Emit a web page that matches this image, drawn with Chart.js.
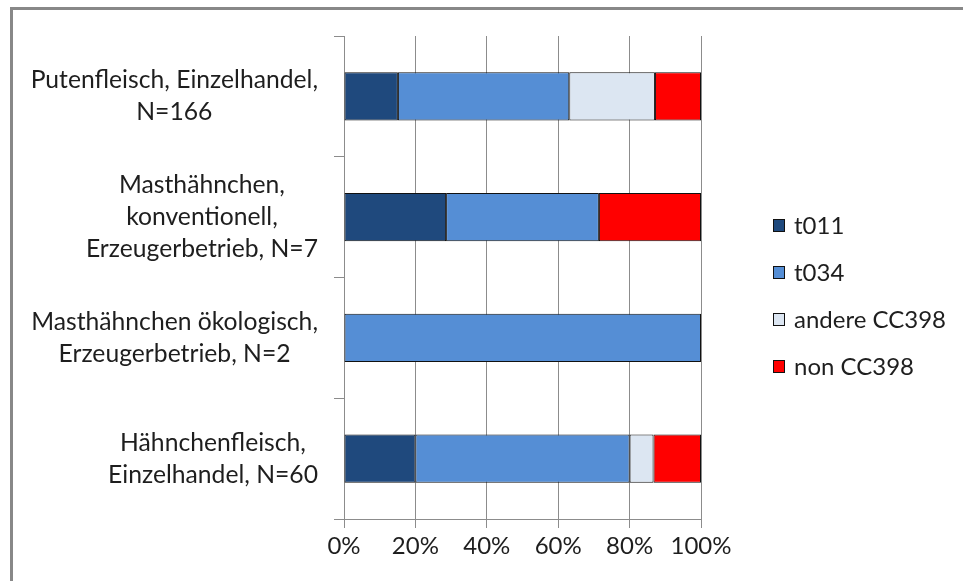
<!DOCTYPE html>
<html>
<head>
<meta charset="utf-8">
<script src="https://cdn.jsdelivr.net/npm/chart.js@4"></script>
<style>
  body { margin: 0; background: #fff; }
  #frame {
    position: absolute; left: 10px; top: 7px; width: 1000px; height: 700px;
    border-left: 3px solid #888; border-top: 3px solid #888;
  }
  #wrap { position: absolute; left: 0; top: 0; width: 963px; height: 581px; }
</style>
</head>
<body>
<div id="frame"></div>
<div id="wrap"><canvas id="myChart" width="963" height="581"></canvas></div>
<script>
// categories, one array entry per text line
var categories = [
  ['Putenfleisch, Einzelhandel,', 'N=166'],
  ['Masthähnchen,', 'konventionell,', 'Erzeugerbetrieb, N=7'],
  ['Masthähnchen ökologisch,', 'Erzeugerbetrieb, N=2'],
  ['Hähnchenfleisch,', 'Einzelhandel, N=60']
];
var seriesNames = ['t011', 't034', 'andere CC398', 'non CC398'];
var seriesColors = ['#1f497d', '#558ed5', '#dce6f2', '#ff0000'];

// shares in percent
var t011 = [15.1, 28.6, 0, 20.0];
var t034 = [48.0, 42.8, 100, 60.0];
var andereCC398 = [24.0, 0, 0, 6.7];
var nonCC398 = [12.9, 28.6, 0, 13.3];

var xTicks = [0, 20, 40, 60, 80, 100];

var FONT = 'Lato, "Open Sans", sans-serif';
var textColor = '#1e1e1e';
var gridColor = '#8c8c8c';

var values = [t011, t034, andereCC398, nonCC398];
var datasets = seriesNames.map(function(name, i) {
  return {
    label: name,
    data: values[i],
    backgroundColor: seriesColors[i],
    borderColor: '#111',
    borderWidth: 1,
    borderSkipped: false,
    barPercentage: 0.4,
    categoryPercentage: 1
  };
});

// y labels: each block right-aligned, lines centred within it
var categoryLabels = {
  id: 'categoryLabels',
  afterDraw: function(chart) {
    var ctx = chart.ctx;
    var yScale = chart.scales.y;
    var right = 318, lineH = 32;
    ctx.save();
    ctx.font = '24.7px ' + FONT;
    ctx.fillStyle = textColor;
    ctx.textAlign = 'center';
    ctx.textBaseline = 'middle';
    categories.forEach(function(lines, i) {
      var y = yScale.getPixelForValue(i);
      var w = Math.max.apply(null, lines.map(function(l) { return ctx.measureText(l).width; }));
      var cx = right - w / 2;
      lines.forEach(function(l, j) {
        ctx.fillText(l, cx, y + (j - (lines.length - 1) / 2) * lineH);
      });
    });
    ctx.restore();
  }
};

// legend to the right of the plot
var sideLegend = {
  id: 'sideLegend',
  afterDraw: function(chart) {
    var ctx = chart.ctx;
    ctx.save();
    ctx.font = '24px ' + FONT;
    ctx.textBaseline = 'middle';
    chart.data.datasets.forEach(function(ds, i) {
      var y = 226 + i * 47;
      ctx.fillStyle = ds.backgroundColor;
      ctx.fillRect(773.5, y - 6.5, 11, 12);
      ctx.strokeStyle = '#111';
      ctx.lineWidth = 1;
      ctx.strokeRect(773.5, y - 6.5, 11, 12);
      ctx.fillStyle = textColor;
      ctx.fillText(ds.label, 794, y);
    });
    ctx.restore();
  }
};

var ctx = document.getElementById('myChart').getContext('2d');
var chart = new Chart(ctx, {
  type: 'bar',
  data: {
    labels: categories,
    datasets: datasets
  },
  options: {
    indexAxis: 'y',
    responsive: false,
    animation: false,
    layout: { padding: { top: 36, right: 262, left: 0, bottom: 0 } },
    plugins: {
      legend: { display: false },
      tooltip: { enabled: false }
    },
    scales: {
      x: {
        stacked: true,
        min: 0,
        max: 100,
        afterBuildTicks: function(scale) {
          scale.ticks = xTicks.map(function(v) { return { value: v }; });
        },
        afterFit: function(scale) { scale.height = 62; },
        grid: { color: gridColor, lineWidth: 1, tickLength: 9 },
        border: { color: gridColor, width: 1 },
        ticks: {
          color: textColor,
          font: { family: FONT, size: 24 },
          padding: 4,
          maxRotation: 0,
          callback: function(v) { return v + '%'; }
        }
      },
      y: {
        stacked: true,
        afterFit: function(scale) { scale.width = 344; },
        grid: { offset: true, drawOnChartArea: false, color: gridColor, tickLength: 10 },
        border: { color: gridColor, width: 1 },
        ticks: { display: false }
      }
    }
  },
  plugins: [categoryLabels, sideLegend]
});
</script>
</body>
</html>
